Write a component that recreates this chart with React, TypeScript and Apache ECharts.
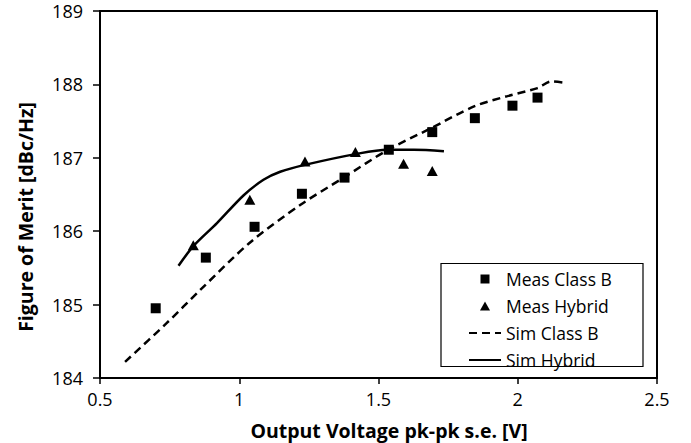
import React, { useEffect, useRef } from "react";
import * as echarts from "echarts";

const measClassBX = [0.70, 0.88, 1.055, 1.225, 1.378, 1.537, 1.693, 1.846, 1.981, 2.071];
const measClassBY = [184.95, 185.64, 186.06, 186.51, 186.73, 187.11, 187.35, 187.54, 187.71, 187.82];

const measHybridX = [0.835, 1.038, 1.236, 1.417, 1.59, 1.693];
const measHybridY = [185.81, 186.43, 186.95, 187.08, 186.92, 186.82];

const simClassBX = [0.59, 0.74, 0.86, 1.04, 1.22, 1.375, 1.53, 1.687, 1.843, 1.963, 2.071, 2.12, 2.173];
const simClassBY = [184.22, 184.75, 185.2, 185.85, 186.36, 186.73, 187.1, 187.4, 187.7, 187.84, 187.95, 188.04, 188.02];

const simHybridX = [0.782, 0.836, 0.92, 1.016, 1.087, 1.147, 1.243, 1.417, 1.531, 1.627, 1.735];
const simHybridY = [185.53, 185.8, 186.11, 186.49, 186.7, 186.81, 186.91, 187.05, 187.11, 187.11, 187.09];

const seriesNames = ["Meas Class B", "Meas Hybrid", "Sim Class B", "Sim Hybrid"];
const xTitle = "Output Voltage pk-pk s.e. [V]";
const yTitle = "Figure of Merit [dBc/Hz]";

const zip = (xs: number[], ys: number[]) => xs.map((x, i) => [x, ys[i]]);

const FONT = "'Open Sans', 'Noto Sans', sans-serif";

const hiddenSymbol = { color: "rgba(0,0,0,0)", borderColor: "rgba(0,0,0,0)", borderWidth: 0, opacity: 0 };

export default function App() {
  const ref = useRef<HTMLDivElement>(null);
  useEffect(() => {
    if (!ref.current) return;
    const chart = echarts.init(ref.current, undefined, { renderer: "svg" });
    chart.setOption({
      animation: false,
      backgroundColor: "#fff",
      textStyle: { fontFamily: FONT },
      grid: {
        left: 100,
        right: 34,
        top: 11,
        bottom: 65,
        show: true,
        borderColor: "#000",
        borderWidth: 2,
      },
      xAxis: {
        type: "value",
        min: 0.5,
        max: 2.5,
        interval: 0.5,
        axisLine: { show: true, lineStyle: { color: "#000", width: 2 } },
        axisTick: { show: true, length: 6, lineStyle: { color: "#000", width: 1.5 } },
        splitLine: { show: false },
        axisLabel: { color: "#000", fontSize: 18, fontFamily: FONT, margin: 12 },
      },
      yAxis: {
        type: "value",
        min: 184,
        max: 189,
        interval: 1,
        axisLine: { show: true, lineStyle: { color: "#000", width: 2 } },
        axisTick: { show: true, length: 7, lineStyle: { color: "#000", width: 1.5 } },
        splitLine: { show: false },
        axisLabel: { color: "#000", fontSize: 18, fontFamily: FONT, margin: 17 },
      },
      legend: {
        orient: "vertical",
        left: 468,
        top: 270,
        padding: 0,
        itemWidth: 32,
        itemHeight: 9,
        itemGap: 9,
        z: 20,
        symbolKeepAspect: true,
        data: [
          { name: seriesNames[0], icon: "path://M0,0L9,0L9,9L0,9Z" },
          { name: seriesNames[1], icon: "path://M5,0L10,9L0,9Z" },
          { name: seriesNames[2], itemStyle: hiddenSymbol },
          { name: seriesNames[3], itemStyle: hiddenSymbol },
        ],
        textStyle: { color: "#000", fontSize: 17.5, fontFamily: FONT, lineHeight: 16 },
      },
      graphic: [
        {
          type: "rect",
          z: 1,
          shape: { x: 441, y: 263.5, width: 202, height: 103 },
          style: { fill: "#fff", stroke: "#000", lineWidth: 1.2 },
        },
        {
          type: "text",
          x: 389,
          y: 430,
          style: {
            text: xTitle,
            font: `bold 19.5px ${FONT}`,
            fill: "#000",
            align: "center",
            verticalAlign: "middle",
          },
        },
        {
          type: "text",
          x: 25,
          y: 217,
          rotation: Math.PI / 2,
          style: {
            text: yTitle,
            font: `bold 19.5px ${FONT}`,
            fill: "#000",
            align: "center",
            verticalAlign: "middle",
          },
        },
      ],
      series: [
        {
          name: seriesNames[0],
          type: "scatter",
          symbol: "rect",
          symbolSize: 10,
          itemStyle: { color: "#000", opacity: 1 },
          data: zip(measClassBX, measClassBY),
          z: 4,
        },
        {
          name: seriesNames[1],
          type: "scatter",
          symbol: "triangle",
          symbolSize: [11, 10],
          itemStyle: { color: "#000", opacity: 1 },
          data: zip(measHybridX, measHybridY),
          z: 4,
        },
        {
          name: seriesNames[2],
          type: "line",
          symbol: "none",
          smooth: 0.3,
          lineStyle: { color: "#000", width: 2.5, type: [8, 5] },
          itemStyle: { color: "#000" },
          data: zip(simClassBX, simClassBY),
          z: 3,
        },
        {
          name: seriesNames[3],
          type: "line",
          symbol: "none",
          smooth: 0.3,
          lineStyle: { color: "#000", width: 2.5 },
          itemStyle: { color: "#000" },
          data: zip(simHybridX, simHybridY),
          z: 3,
        },
      ],
    });
    return () => chart.dispose();
  }, []);
  return <div ref={ref} style={{ width: 691, height: 443, position: "absolute", left: 0, top: 0 }} />;
}
